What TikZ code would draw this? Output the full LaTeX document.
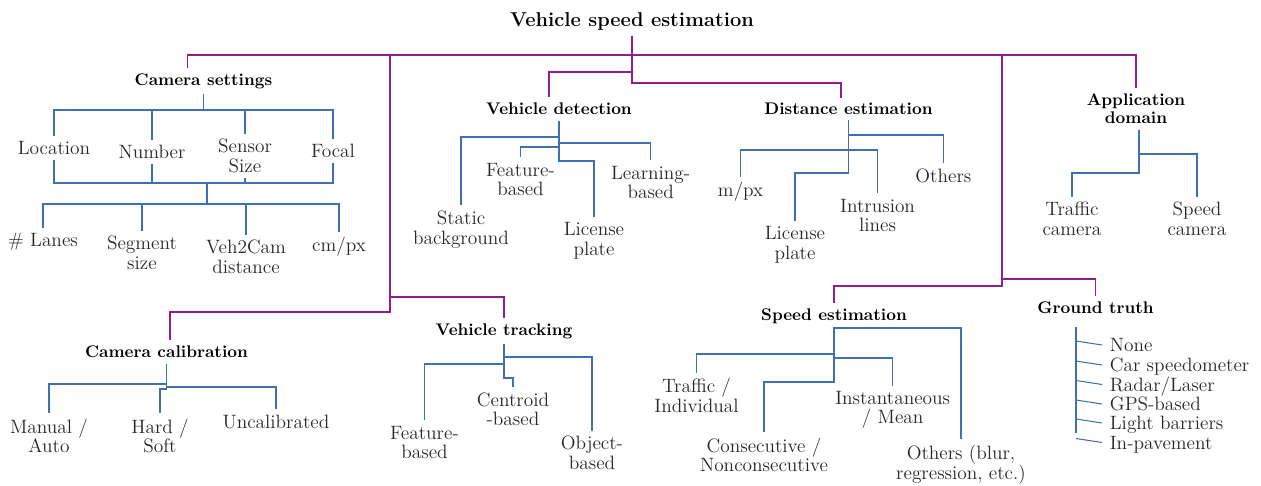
\documentclass[tikz,border=0pt]{standalone}
\usetikzlibrary{calc}
\definecolor{treepurple}{RGB}{145,30,145}
\definecolor{treeblue}{RGB}{65,112,178}
\definecolor{leafgray}{RGB}{40,40,40}

\begin{document}
\begin{tikzpicture}[x = 0.02cm, y = -0.02cm]
\tikzstyle{Title}=[font = \fontsize{11.4}{13}\selectfont\bfseries,
                   inner sep = 3pt]
\tikzstyle{Head}=[font = \fontsize{9.6}{10.2}\selectfont\bfseries,
                  align = center,
                  inner sep = 3pt]
\tikzstyle{Leaf}=[font = \fontsize{11}{11.1}\selectfont,
                  text = leafgray,
                  align = center,
                  inner sep = 3pt]
\tikzstyle{Item}=[Leaf, anchor = west, align = left,
                  inner xsep = 4.3pt, inner ysep = 0pt,
                  text height = 1.5ex, text depth = .25ex]
\tikzstyle{Main}=[draw = treepurple, line width = 0.6pt]
\tikzstyle{Sub}=[draw = treeblue, line width = 0.6pt]
\useasboundingbox (0,0) rectangle (1261,486);

\node[Title] (root) at (632, 21) {Vehicle speed estimation};
\node[Head] (cs) at (203.5, 81) {Camera settings};
\node[Head] (det) at (559, 109) {Vehicle detection};
\node[Head] (dist) at (848.5, 109) {Distance estimation};
\node[Head] (app) at (1136, 109) {Application\\domain};
\node[Head] (cal) at (166.5, 352) {Camera calibration};
\node[Head] (trk) at (504, 331) {Vehicle tracking};
\node[Head] (spd) at (834, 316) {Speed estimation};
\node[Head] (gt) at (1095.5, 308) {Ground truth};

\coordinate (tl) at (390, 55);
\coordinate (tr) at (1002, 55);
\draw[Main] (root.south) |- (tl) -| ([xshift = -0.32cm]cs.north);
\draw[Main] (root.south) |- (tr) -| (app.north);
\draw[Main] (root.south) -- (root.south |- 0,72) -| ([xshift = -0.2cm]det.north);
\draw[Main] (root.south) -- (root.south |- 0,83) -| ([xshift = -0.15cm]dist.north);
\draw[Main] (tl) -- (tl |- 0,297) -| (trk.north);
\draw[Main] (tl) -- (tl |- 0,312) -| ([xshift = 0.07cm]cal.north);
\draw[Main] (tr) -- (tr |- 0,279) -| (gt.north);
\draw[Main] (tr) -- (tr |- 0,286) -| (spd.north);

% camera settings
\node[Leaf] (loc) at (54, 148) {Location};
\node[Leaf] (num) at (152, 152) {Number};
\node[Leaf] (sen) at (245, 156) {Sensor\\Size};
\node[Leaf] (foc) at (333, 151) {Focal};
\node[Leaf] (lan) at (43, 242) {\# Lanes};
\node[Leaf] (seg) at (142, 253) {Segment\\size};
\node[Leaf] (v2c) at (246, 257) {Veh2Cam\\distance};
\node[Leaf] (cmpx) at (339, 247) {cm/px};
\draw[Sub] (cs.south) -- (cs.south |- 0,110) -| (loc.north);
\draw[Sub] (cs.south) -- (cs.south |- 0,110) -| (num.north);
\draw[Sub] (cs.south) -- (cs.south |- 0,110) -| (sen.north);
\draw[Sub] (cs.south) -- (cs.south |- 0,110) -| (foc.north);
\coordinate (csj) at (207, 183);
\coordinate (csk) at (207, 204);
\draw[Sub] (loc.south) |- (csj);
\draw[Sub] (num.south) |- (csj);
\draw[Sub] (sen.south) |- (csj);
\draw[Sub] (foc.south) |- (csj);
\draw[Sub] (csj) -- (csk);
\draw[Sub] (csk) -| (lan.north);
\draw[Sub] (csk) -| (seg.north);
\draw[Sub] (csk) -| (v2c.north);
\draw[Sub] (csk) -| (cmpx.north);

% vehicle detection
\node[Leaf] (sta) at (461, 229.5) {Static\\background};
\node[Leaf] (fea) at (520.5, 179.5) {Feature-\\based};
\node[Leaf] (lrn) at (650.7, 182.5) {Learning-\\based};
\node[Leaf] (lic) at (594, 241) {License\\plate};
\draw[Sub] (det.south) -- (det.south |- 0,137) -| (sta.north);
\draw[Sub] (det.south) -- (det.south |- 0,143) -| (lrn.north);
\draw[Sub] (det.south) -- (det.south |- 0,147) -| (fea.north);
\draw[Sub] (det.south) -- (det.south |- 0,161) -| (lic.north);

% distance estimation
\node[Leaf] (mpx) at (740.6, 192) {m/px};
\node[Leaf] (dlic) at (795, 245) {License\\plate};
\node[Leaf] (int) at (877.6, 215.5) {Intrusion\\lines};
\node[Leaf] (oth) at (943.4, 176) {Others};
\draw[Sub] (dist.south) -- (dist.south |- 0,135) -| (oth.north);
\draw[Sub] (dist.south) -- (dist.south |- 0,150) -| (mpx.north);
\draw[Sub] (dist.south) -- (dist.south |- 0,150) -| (int.north);
\draw[Sub] (dist.south) -- (dist.south |- 0,173) -| (dlic.north);

% application domain
\node[Leaf] (tcam) at (1072, 219) {Traffic\\camera};
\node[Leaf] (scam) at (1197, 219) {Speed\\camera};
\draw[Sub] ([xshift = 0.06cm]app.south) -- ([xshift = 0.06cm]app.south |- 0,154) -| (scam.north);
\draw[Sub] ([xshift = 0.06cm]app.south) -- ([xshift = 0.06cm]app.south |- 0,173) -| (tcam.north);

% camera calibration
\node[Leaf] (man) at (49, 436) {Manual /\\Auto};
\node[Leaf] (hrd) at (160, 436) {Hard /\\Soft};
\node[Leaf] (unc) at (276, 422) {Uncalibrated};
\draw[Sub] (cal.south) -- (cal.south |- 0,384) -| (man.north);
\draw[Sub] (cal.south) -- (cal.south |- 0,387) -| (unc.north);
\draw[Sub] (cal.south) -- (cal.south |- 0,389) -| (hrd.north);

% vehicle tracking
\node[Leaf] (tfea) at (424.5, 442.5) {Feature-\\based};
\node[Leaf] (cen) at (513, 409.5) {Centroid\\-based};
\node[Leaf] (obj) at (592, 453) {Object-\\based};
\draw[Sub] (trk.south) -- (trk.south |- 0,357) -| (obj.north);
\draw[Sub] (trk.south) -- (trk.south |- 0,364) -| (tfea.north);
\draw[Sub] (trk.south) -- (trk.south |- 0,378) -| (cen.north);

% speed estimation
\node[Leaf] (trf) at (696.5, 395.5) {Traffic /\\Individual};
\node[Leaf] (con) at (764, 455) {Consecutive /\\Nonconsecutive};
\node[Leaf] (ins) at (892.7, 410) {Instantaneous\\/ Mean};
\node[Leaf] (soth) at (961, 464.5) {Others (blur,\\regression, etc.)};
\draw[Sub] (spd.south) -- (spd.south |- 0,328) -| (soth.north);
\draw[Sub] (spd.south) -- (spd.south |- 0,354) -| (trf.north);
\draw[Sub] (spd.south) -- (spd.south |- 0,358) -| (ins.north);
\draw[Sub] (spd.south) -- (spd.south |- 0,382) -| (con.north);

% ground truth
\coordinate (gtv) at (1076, 327);
\coordinate (gtb) at (1076, 433);
\node[Item] (gt1) at (1102, 347) {None};
\node[Item] (gt2) at (1102, 367) {Car speedometer};
\node[Item] (gt3) at (1102, 386.5) {Radar/Laser};
\node[Item] (gt4) at (1102, 406) {GPS-based};
\node[Item] (gt5) at (1102, 425) {Light barriers};
\node[Item] (gt6) at (1102, 444.5) {In-pavement};
\draw[Sub] (gtv) -- (gtb);
\draw[Sub] ($(gt1.west -| gtv)+(0,-6)$) -- ($(gt1.west)+(0,-2)$);
\draw[Sub] ($(gt2.west -| gtv)+(0,-6)$) -- ($(gt2.west)+(0,-2)$);
\draw[Sub] ($(gt3.west -| gtv)+(0,-6)$) -- ($(gt3.west)+(0,-2)$);
\draw[Sub] ($(gt4.west -| gtv)+(0,-6)$) -- ($(gt4.west)+(0,-2)$);
\draw[Sub] ($(gt5.west -| gtv)+(0,-6)$) -- ($(gt5.west)+(0,-2)$);
\draw[Sub] ($(gt6.west -| gtv)+(0,-6)$) -- ($(gt6.west)+(0,-2)$);
\end{tikzpicture}
\end{document}
